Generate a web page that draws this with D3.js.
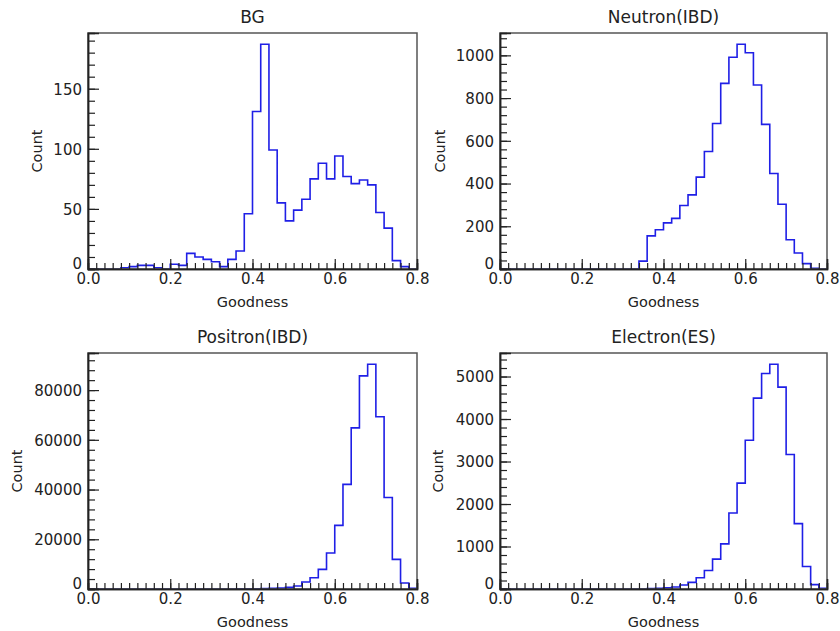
<!DOCTYPE html>
<html>
<head>
<meta charset="utf-8">
<script src="https://cdn.jsdelivr.net/npm/d3@7"></script>
<style>
  html, body { margin: 0; padding: 0; background: #fff; }
  svg { display: block; }
  text { font-family: "DejaVu Sans", "Noto Sans", sans-serif; fill: #222; }
</style>
</head>
<body>
<svg id="chart" width="840" height="631"></svg>
<script>
// ---- Data (bin lower edges, width 0.02) ----
const binEdges = [0.00,0.02,0.04,0.06,0.08,0.10,0.12,0.14,0.16,0.18,
                  0.20,0.22,0.24,0.26,0.28,0.30,0.32,0.34,0.36,0.38,
                  0.40,0.42,0.44,0.46,0.48,0.50,0.52,0.54,0.56,0.58,
                  0.60,0.62,0.64,0.66,0.68,0.70,0.72,0.74,0.76,0.78];
const binWidth = 0.02;

const titles = ["BG", "Neutron(IBD)", "Positron(IBD)", "Electron(ES)"];

const bgCounts = [0,0,0,0,1,2,3,3,1,0,
                  4,3,13,10,8,6,2,8,15,46,
                  131,187,99,55,40,49,58,75,88,75,
                  94,77,71,74,70,47,34,7,2,0];

const neutronCounts = [0,0,0,0,0,0,0,0,0,0,
                       0,0,0,0,0,0,0,37,155,184,
                       216,237,297,347,430,550,681,869,991,1052,
                       1012,861,677,447,303,137,75,25,3,0];

const positronCounts = [0,0,0,0,0,0,0,0,0,0,
                        0,0,0,0,0,0,0,0,60,90,
                        130,180,260,380,670,1200,2800,4500,7900,14500,
                        25600,42100,64800,85700,90400,69300,36800,11900,2400,250];

const electronCounts = [0,0,0,0,0,0,0,0,0,0,
                        0,0,0,0,0,0,0,0,12,18,
                        30,47,94,156,265,437,703,1062,1789,2492,
                        3500,4492,5070,5289,4750,3164,1539,531,102,16];

const xTickLabels = [0.0, 0.2, 0.4, 0.6, 0.8];
const yMajorTicks = [
  [0, 50, 100, 150],
  [0, 200, 400, 600, 800, 1000],
  [0, 20000, 40000, 60000, 80000],
  [0, 1000, 2000, 3000, 4000, 5000]
];
const yMinorSteps = [10, 40, 4000, 200];

const seriesList = [bgCounts, neutronCounts, positronCounts, electronCounts];

// ---- Layout ----
const panels = [
  {l: 88,  r: 417, t: 33,  b: 269, countX: 37},
  {l: 500, r: 827, t: 33,  b: 269, countX: 440},
  {l: 88,  r: 417, t: 353, b: 589, countX: 17},
  {l: 500, r: 827, t: 353, b: 589, countX: 438}
];

const svg = d3.select("#chart");
const blue = "#1f1fe6";
const FONT = '"DejaVu Sans", "Noto Sans", sans-serif';

panels.forEach((p, i) => {
  const counts = seriesList[i];
  const x = d3.scaleLinear().domain([0, 0.8]).range([p.l, p.r]);
  const yMax = d3.max(counts) * 1.05;
  const y = d3.scaleLinear().domain([0, yMax]).range([p.b, p.t]);

  const g = svg.append("g");

  // histogram outline
  const pts = [[binEdges[0], 0]];
  binEdges.forEach((e, k) => pts.push([e, counts[k]]));
  pts.push([binEdges[binEdges.length - 1] + binWidth, counts[counts.length - 1]]);
  pts.push([binEdges[binEdges.length - 1] + binWidth, 0]);
  const line = d3.line().x(d => x(d[0])).y(d => y(d[1])).curve(d3.curveStepAfter);
  g.append("path")
    .attr("d", line(pts))
    .attr("fill", "none")
    .attr("stroke", blue)
    .attr("stroke-width", 1.6);

  // frame (top/right)
  g.append("rect")
    .attr("x", p.l).attr("y", p.t)
    .attr("width", p.r - p.l).attr("height", p.b - p.t)
    .attr("fill", "none").attr("stroke", "#555").attr("stroke-width", 1.5);

  // x minor ticks
  const xMinor = binEdges.concat([0.8]);
  const xMinorAxis = d3.axisBottom(x).tickValues(xMinor).tickSize(-6).tickFormat("");
  const gxm = g.append("g").attr("transform", `translate(0,${p.b})`).call(xMinorAxis);
  // x major ticks
  const xMajorAxis = d3.axisBottom(x).tickValues(xTickLabels).tickSize(-10).tickPadding(5)
    .tickFormat(d3.format(".1f"));
  const gx = g.append("g").attr("transform", `translate(0,${p.b})`).call(xMajorAxis);
  [gxm, gx].forEach(a => {
    a.select(".domain").attr("stroke", "#222").attr("stroke-width", 1.5);
    a.selectAll(".tick line").attr("stroke", "#222").attr("stroke-width", 1.2);
  });
  gx.selectAll(".tick text")
    .attr("font-size", 15).attr("fill", "#2a2a2a")
    .attr("font-family", FONT)
    .attr("dy", null).attr("y", 15);

  // y minor ticks
  const ms = yMinorSteps[i];
  const yMinor = d3.range(0, yMax, ms);
  const yMinorAxis = d3.axisLeft(y).tickValues(yMinor).tickSize(-7).tickFormat("");
  const gym = g.append("g").attr("transform", `translate(${p.l},0)`).call(yMinorAxis);
  const yMajorAxis = d3.axisLeft(y).tickValues(yMajorTicks[i]).tickSize(-11).tickPadding(6)
    .tickFormat(d3.format("d"));
  const gy = g.append("g").attr("transform", `translate(${p.l},0)`).call(yMajorAxis);
  [gym, gy].forEach(a => {
    a.select(".domain").attr("stroke", "#222").attr("stroke-width", 1.5);
    a.selectAll(".tick line").attr("stroke", "#222").attr("stroke-width", 1.2);
  });
  gy.selectAll(".tick text")
    .attr("font-size", 15).attr("fill", "#2a2a2a")
    .attr("font-family", FONT)
    .attr("x", -6)
    .attr("dy", d => d === 0 ? "-0.05em" : "0.36em");

  // title
  g.append("text")
    .attr("x", (p.l + p.r) / 2).attr("y", p.t - 10)
    .attr("text-anchor", "middle")
    .attr("font-size", 17)
    .text(titles[i]);

  // x label
  g.append("text")
    .attr("x", (p.l + p.r) / 2).attr("y", p.b + 38)
    .attr("text-anchor", "middle")
    .attr("font-size", 14.5)
    .text("Goodness");

  // y label
  g.append("text")
    .attr("transform", `translate(${p.countX + 5},${(p.t + p.b) / 2}) rotate(-90)`)
    .attr("text-anchor", "middle")
    .attr("font-size", 14.5)
    .text("Count");
});
</script>
</body>
</html>
